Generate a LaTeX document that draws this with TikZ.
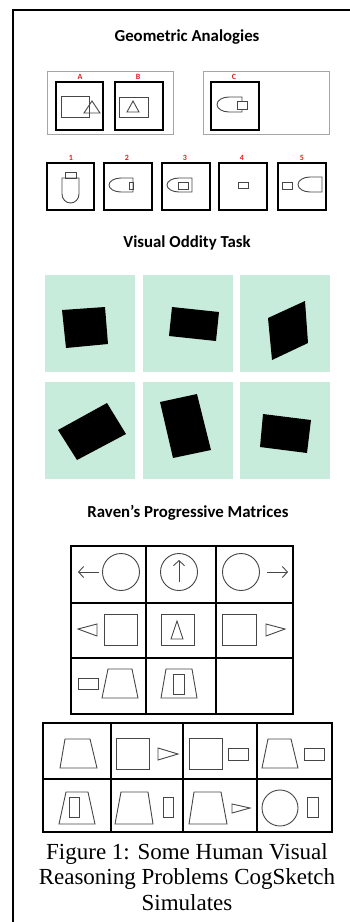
\documentclass[tikz,border=0pt]{standalone}
\usepackage{fontspec}
\setmainfont{Liberation Serif}
\newfontfamily\headfont{Carlito}
\usetikzlibrary{arrows.meta}
\definecolor{mint}{RGB}{200,236,220}
\definecolor{labred}{RGB}{225,30,30}
\definecolor{shapegray}{RGB}{70,70,70}

\begin{document}
\begin{tikzpicture}[x=1pt,y=-1pt,
  heading/.style={font=\headfont\bfseries\fontsize{16.8}{19}\selectfont,inner sep=0pt},
  tag/.style={font=\headfont\bfseries\fontsize{8}{9}\selectfont,text=labred,inner sep=0pt},
  frame/.style={line width=1.8pt},
  panel/.style={draw=gray!70,line width=0.8pt},
  cell/.style={line width=1.8pt},
  fig/.style={draw=shapegray,line width=0.9pt},
  grid/.style={line width=1.5pt},
  pointer/.style={fig,-{Straight Barb[length=5pt,width=11pt]}}]
\useasboundingbox (0,0) rectangle (350,922);
\draw[frame] (13,922) -- (13,10) -- (350,10);

% geometric analogies
\node[heading] (geotitle) at (187,37) {Geometric Analogies};
\draw[panel] (47,71) rectangle (173,134);
\draw[panel] (203,71) rectangle (329,134);
\draw[cell] (56,82) rectangle (103,130);
\draw[cell] (115,82) rectangle (163,130);
\draw[cell] (211,82) rectangle (259,130);
\node[tag] (tagA) at (80,77) {A};
\node[tag] (tagB) at (138,77) {B};
\node[tag] (tagC) at (234,77) {C};
\draw[fig] (61,96) rectangle (89,117);
\draw[fig] (92,101) -- (100,113) -- (84,113) -- cycle;
\draw[fig] (119,97) rectangle (148,117);
\draw[fig] (133,101) -- (139,112) -- (127,112) -- cycle;
\draw[fig] (242,97) -- (229,97) arc[start angle=-90,end angle=-270,x radius=12,y radius=7.5] -- (242,112) -- cycle;
\draw[fig,fill=white] (237,101) rectangle (247,109);

% answers
\draw[cell] (47,163) rectangle (94,210);
\draw[cell] (104,163) rectangle (152,210);
\draw[cell] (162,163) rectangle (210,210);
\draw[cell] (219,163) rectangle (267,210);
\draw[cell] (278,163) rectangle (326,210);
\node[tag] (tag1) at (71,158) {1};
\node[tag] (tag2) at (127,158) {2};
\node[tag] (tag3) at (185,158) {3};
\node[tag] (tag4) at (242,158) {4};
\node[tag] (tag5) at (302,158) {5};
\draw[fig] (62,178) -- (62,194) arc[start angle=180,end angle=0,x radius=8.5,y radius=9] -- (79,178) -- cycle;
\draw[fig] (65,172) rectangle (76,178);
\draw[fig] (133,178) -- (121,178) arc[start angle=-90,end angle=-270,x radius=12,y radius=7] -- (133,192) -- cycle;
\draw[fig] (129,182) rectangle (133,189);
\draw[fig] (192,178) -- (179,178) arc[start angle=-90,end angle=-270,x radius=12,y radius=7] -- (192,192) -- cycle;
\draw[fig] (178,182) rectangle (188,189);
\draw[fig] (238,182) rectangle (248,188);
\draw[fig] (282,182) rectangle (292,189);
\draw[fig] (322,177) -- (310,177) arc[start angle=-90,end angle=-270,x radius=12,y radius=7.5] -- (322,192) -- cycle;

% visual oddity
\node[heading] (oddtitle) at (187,243) {Visual Oddity Task};
\foreach \x in {45,143,240}
  \foreach \y in {275,382}
    \fill[mint] (\x,\y) rectangle ++(90,97);
\fill (62,310) -- (105,307) -- (108,344) -- (66,348) -- cycle;
\fill (172,307) -- (219,312) -- (216,341) -- (169,336) -- cycle;
\fill (268,318) -- (305,301) -- (308,343) -- (272,360) -- cycle;
\fill (58,430) -- (107,403) -- (126,434) -- (77,460) -- cycle;
\fill (160,402) -- (197,394) -- (211,450) -- (173,458) -- cycle;
\fill (263,414) -- (311,420) -- (307,453) -- (260,447) -- cycle;

% raven matrices
\node[heading] (ravtitle) at (188,513) {Raven’s Progressive Matrices};
\draw[grid] (71,546) rectangle (293,714);
\draw[grid] (146,546) -- (146,714) (216,546) -- (216,714)
  (71,603) -- (293,603) (71,658) -- (293,658);
\draw[pointer] (99,572) -- (78,572);
\draw[fig] (121,572) circle[radius=18.5];
\draw[fig] (179,572) circle[radius=18.5];
\draw[pointer] (179,582) -- (179,560);
\draw[fig] (241,572) circle[radius=18.5];
\draw[pointer] (267,572) -- (288,572);
\draw[fig] (78,629) -- (97,624) -- (97,636) -- cycle;
\draw[fig] (104,614) rectangle (137,645);
\draw[fig] (161,614) rectangle (194,645);
\draw[fig] (177,621) -- (183,639) -- (171,639) -- cycle;
\draw[fig] (222,614) rectangle (256,645);
\draw[fig] (285,629) -- (266,624) -- (266,636) -- cycle;
\draw[fig] (78,678) rectangle (98,689);
\draw[fig] (102,698) -- (108,669) -- (132,669) -- (138,698) -- cycle;
\draw[fig] (161,698) -- (166,669) -- (192,669) -- (197,698) -- cycle;
\draw[fig] (173,674) rectangle (184,694);

% answer grid
\draw[grid] (43,723) rectangle (332,832);
\draw[grid] (111,723) -- (111,832) (183,723) -- (183,832) (257,723) -- (257,832)
  (43,779) -- (332,779);
\draw[fig] (60,768) -- (65,739) -- (90,739) -- (97,768) -- cycle;
\draw[fig] (116,738) rectangle (149,769);
\draw[fig] (178,754) -- (158,748) -- (158,760) -- cycle;
\draw[fig] (189,738) rectangle (222,769);
\draw[fig] (228,748) rectangle (248,760);
\draw[fig] (262,768) -- (268,739) -- (291,739) -- (298,768) -- cycle;
\draw[fig] (304,748) rectangle (324,760);
\draw[fig] (59,824) -- (66,792) -- (88,792) -- (95,824) -- cycle;
\draw[fig] (69,797) rectangle (79,817);
\draw[fig] (115,824) -- (121,792) -- (148,792) -- (153,824) -- cycle;
\draw[fig] (163,797) rectangle (173,817);
\draw[fig] (189,824) -- (194,792) -- (221,792) -- (227,824) -- cycle;
\draw[fig] (250,808) -- (232,804) -- (232,813) -- cycle;
\draw[fig] (280,808) circle[radius=18];
\draw[fig] (307,797) rectangle (318,817);

\node[align=center,inner sep=0pt,font=\fontsize{23}{25.5}\selectfont] (caption) at (187,877)
  {Figure 1: Some Human Visual\\Reasoning Problems CogSketch\\Simulates};
\end{tikzpicture}
\end{document}
